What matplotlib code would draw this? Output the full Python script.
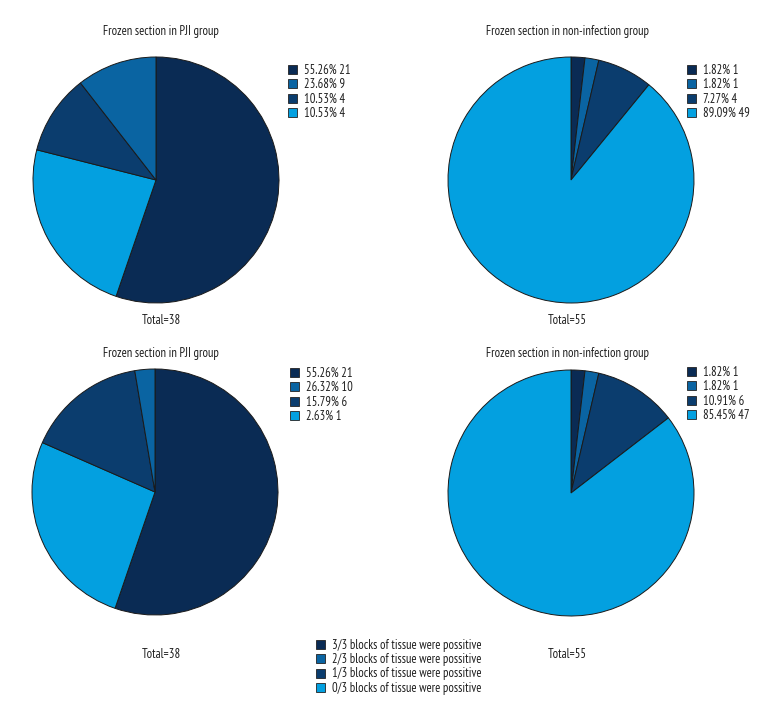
import matplotlib.pyplot as plt
from matplotlib.patches import Patch

plt.rcParams['font.family'] = ['PT Sans Narrow', 'Roboto Condensed', 'DejaVu Sans']

W, H = 780, 720

navy = '#0a2b54'
medium = '#0a64a2'
dark = '#0b3d6e'
light = '#03a0e0'

# legend colour order: 3/3, 2/3, 1/3, 0/3
legend_colors = [navy, medium, dark, light]
categories = ['3/3 blocks of tissue were possitive',
              '2/3 blocks of tissue were possitive',
              '1/3 blocks of tissue were possitive',
              '0/3 blocks of tissue were possitive']

title_pji = 'Frozen section in PJI group'
title_non = 'Frozen section in non-infection group'

# counts, in clockwise order from 12 o'clock, with the colour of each slice
pji_top_counts = [21, 9, 4, 4]
pji_top_colors = [navy, light, dark, medium]
pji_top_labels = ['55.26% 21', '23.68% 9', '10.53% 4', '10.53% 4']

non_top_counts = [1, 1, 4, 49]
non_top_colors = [navy, medium, dark, light]
non_top_labels = ['1.82% 1', '1.82% 1', '7.27% 4', '89.09% 49']

pji_bot_counts = [21, 10, 6, 1]
pji_bot_colors = [navy, light, dark, medium]
pji_bot_labels = ['55.26% 21', '26.32% 10', '15.79% 6', '2.63% 1']

non_bot_counts = [1, 1, 6, 47]
non_bot_colors = [navy, medium, dark, light]
non_bot_labels = ['1.82% 1', '1.82% 1', '10.91% 6', '85.45% 47']

totals = ['Total=38', 'Total=55', 'Total=38', 'Total=55']

FS = 9
TXT = '#1e1e1e'

fig = plt.figure(figsize=(W / 100, H / 100), dpi=100)
fig.patch.set_facecolor('white')


def fx(x):
    return x / W


def fy(y):
    return 1 - y / H


def draw_pie(cx, cy, r, counts, colors, labels, title, total, tx, ty, toty, leg_x, leg_y):
    ax = fig.add_axes([fx(cx - r), fy(cy + r), 2 * r / W, 2 * r / H])
    ax.pie(counts, colors=colors, startangle=90, counterclock=False,
           wedgeprops=dict(edgecolor='#1a1a1a', linewidth=0.7))
    ax.set_xlim(-1, 1)
    ax.set_ylim(-1, 1)
    ax.set_aspect('equal')
    ax.axis('off')
    fig.text(fx(tx), fy(ty), title, ha='center', va='center', fontsize=FS, color=TXT)
    fig.text(fx(tx), fy(toty), total, ha='center', va='center', fontsize=FS, color=TXT)
    handles = [Patch(facecolor=c, edgecolor='#222222', linewidth=0.6) for c in legend_colors]
    fig.legend(handles, labels, loc='upper left', bbox_to_anchor=(fx(leg_x), fy(leg_y)),
               frameon=False, fontsize=FS, borderpad=0, borderaxespad=0,
               handlelength=0.75, handleheight=0.75, handletextpad=0.5,
               labelspacing=0.1, labelcolor=TXT)


draw_pie(156, 180, 123, pji_top_counts, pji_top_colors, pji_top_labels,
         title_pji, totals[0], 161, 32, 320, 288, 64)
draw_pie(571, 180, 123, non_top_counts, non_top_colors, non_top_labels,
         title_non, totals[1], 567, 32, 320, 687, 64)
draw_pie(155, 492, 123, pji_bot_counts, pji_bot_colors, pji_bot_labels,
         title_pji, totals[2], 161, 353, 654, 290, 367)
draw_pie(571, 493, 123, non_bot_counts, non_bot_colors, non_bot_labels,
         title_non, totals[3], 567, 353, 654, 687, 366)

handles = [Patch(facecolor=c, edgecolor='#222222', linewidth=0.6) for c in legend_colors]
fig.legend(handles, categories, loc='upper left', bbox_to_anchor=(fx(316), fy(639)),
           frameon=False, fontsize=FS, borderpad=0, borderaxespad=0,
           handlelength=0.75, handleheight=0.75, handletextpad=0.5,
           labelspacing=0.1, labelcolor=TXT)

fig.savefig('out.png', dpi=100)
